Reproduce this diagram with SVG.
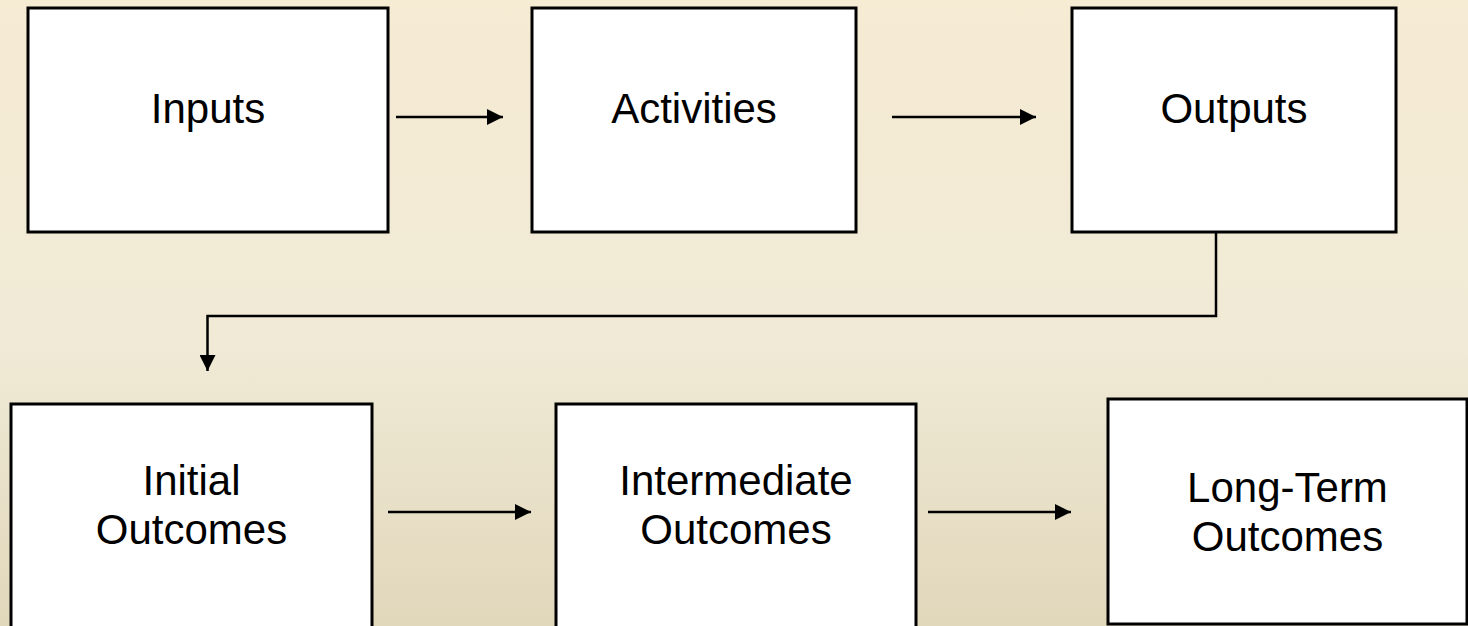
<svg xmlns="http://www.w3.org/2000/svg" width="1468" height="626" viewBox="0 0 1468 626">
<defs>
<linearGradient id="bg" x1="0" y1="0" x2="0" y2="1">
<stop offset="0" stop-color="#F6EBD3"/>
<stop offset="0.55" stop-color="#F0EAD6"/>
<stop offset="1" stop-color="#E1D7BB"/>
</linearGradient>
<marker id="arr" viewBox="0 0 16 16" refX="16" refY="8" markerWidth="16" markerHeight="16" markerUnits="userSpaceOnUse" orient="auto">
<path d="M0,0 L16,8 L0,16 Z" fill="#000"/>
</marker>
<style>
.box{fill:#fff;stroke:#000;stroke-width:3}
.lbl{font-family:"Liberation Sans",Arial,sans-serif;font-size:42px;fill:#000;text-anchor:middle}
.con{fill:none;stroke:#000;stroke-width:2.5}
</style>
</defs>
<rect x="0" y="0" width="1468" height="626" fill="url(#bg)"/>
<g id="inputs"><rect class="box" x="28" y="8" width="360" height="224"/><text class="lbl" x="208" y="123">Inputs</text></g>
<g id="activities"><rect class="box" x="532" y="8" width="324" height="224"/><text class="lbl" x="694" y="123">Activities</text></g>
<g id="outputs"><rect class="box" x="1072" y="8" width="324" height="224"/><text class="lbl" x="1234" y="123">Outputs</text></g>
<g id="initial"><rect class="box" x="11" y="404" width="361" height="240"/><text class="lbl" x="191.5" y="495">Initial</text><text class="lbl" x="191.5" y="544">Outcomes</text></g>
<g id="intermediate"><rect class="box" x="556" y="404" width="360" height="240"/><text class="lbl" x="736" y="495">Intermediate</text><text class="lbl" x="736" y="544">Outcomes</text></g>
<g id="longterm"><rect class="box" x="1108" y="399" width="359" height="225"/><text class="lbl" x="1287.5" y="502">Long-Term</text><text class="lbl" x="1287.5" y="551">Outcomes</text></g>
<g id="connectors">
<line class="con" x1="396" y1="117" x2="503" y2="117" marker-end="url(#arr)"/>
<line class="con" x1="892" y1="117" x2="1036" y2="117" marker-end="url(#arr)"/>
<path class="con" d="M1216,233 V316 H207.5 V371" marker-end="url(#arr)"/>
<line class="con" x1="388" y1="512" x2="531" y2="512" marker-end="url(#arr)"/>
<line class="con" x1="928" y1="512" x2="1071" y2="512" marker-end="url(#arr)"/>
</g>
</svg>
